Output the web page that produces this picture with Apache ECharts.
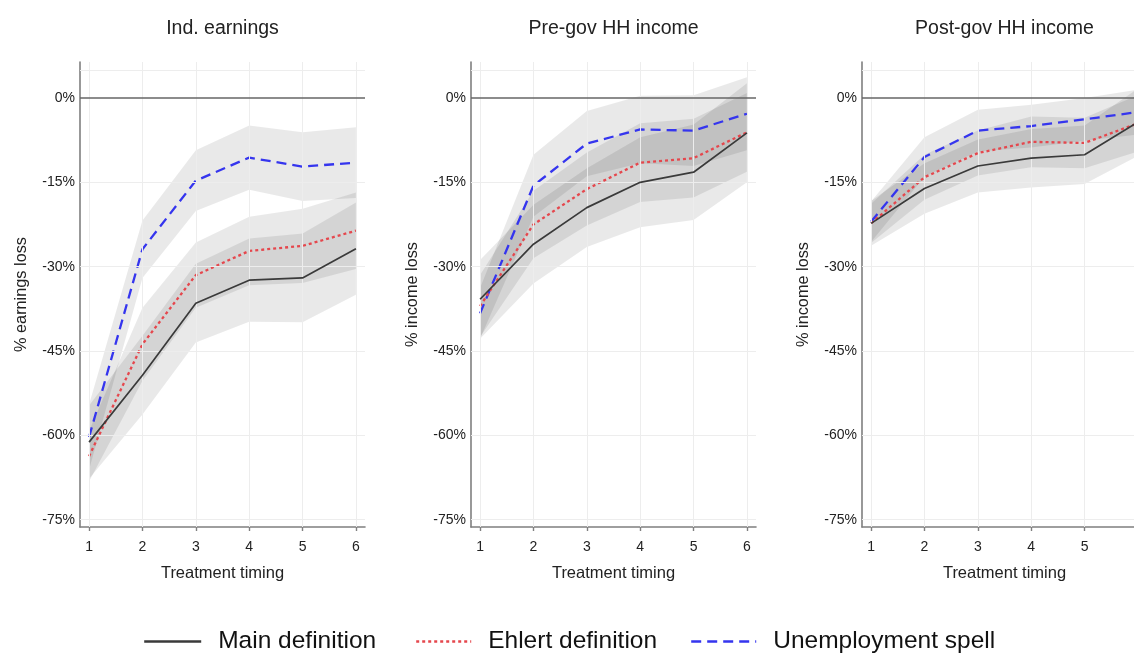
<!DOCTYPE html>
<html>
<head>
<meta charset="utf-8">
<script src="https://cdn.jsdelivr.net/npm/echarts@6/dist/echarts.min.js"></script>
<style>html,body{margin:0;padding:0;background:#fff}#c{width:1134px;height:653px}</style>
</head>
<body>
<div id="c"></div>
<script>
// ---- data ----
const timing = [1, 2, 3, 4, 5, 6];
const yTicks = [0, -15, -30, -45, -60, -75];
const panelTitles = ['Ind. earnings', 'Pre-gov HH income', 'Post-gov HH income'];
const yNames = ['% earnings loss', '% income loss', '% income loss'];
const seriesNames = ['Main definition', 'Ehlert definition', 'Unemployment spell'];

// Panel 1: Ind. earnings
const p1Main    = [-61.2, -49.3, -36.5, -32.4, -32.0, -26.8];
const p1MainLo  = [-67.7, -56.3, -43.5, -39.8, -39.9, -35.0];
const p1MainHi  = [-54.7, -42.3, -29.5, -25.0, -24.1, -18.6];
const p1Ehl     = [-63.7, -43.8, -31.5, -27.2, -26.3, -23.6];
const p1EhlLo   = [-68.2, -50.3, -37.3, -33.3, -32.9, -30.4];
const p1EhlHi   = [-59.2, -37.3, -25.7, -21.1, -19.7, -16.8];
const p1Unemp   = [-60.3, -26.9, -14.7, -10.6, -12.2, -11.5];
const p1UnempLo = [-66.1, -32.0, -20.1, -16.3, -18.3, -17.8];
const p1UnempHi = [-54.5, -21.8, -9.3, -4.9, -6.1, -5.2];

// Panel 2: Pre-gov HH income
const p2Main    = [-35.8, -26.0, -19.5, -15.0, -13.2, -6.2];
const p2MainLo  = [-42.8, -33.0, -26.5, -23.0, -21.7, -15.0];
const p2MainHi  = [-28.8, -19.0, -12.5, -7.0, -4.7, 2.6];
const p2Ehl     = [-37.0, -22.5, -16.2, -11.5, -10.7, -6.1];
const p2EhlLo   = [-42.5, -28.5, -22.7, -18.5, -17.7, -13.1];
const p2EhlHi   = [-31.5, -16.5, -9.7, -4.5, -3.7, 0.9];
const p2Unemp   = [-38.3, -15.6, -8.1, -5.6, -5.8, -2.8];
const p2UnempLo = [-42.8, -21.1, -13.9, -11.6, -12.1, -9.3];
const p2UnempHi = [-33.8, -10.1, -2.3, 0.4, 0.5, 3.7];

// Panel 3: Post-gov HH income
const p3Main    = [-22.3, -16.1, -12.1, -10.7, -10.1, -4.3];
const p3MainLo  = [-26.3, -20.6, -16.8, -15.9, -15.3, -10.3];
const p3MainHi  = [-18.3, -11.6, -7.4, -5.5, -4.9, 1.7];
const p3Ehl     = [-22.3, -14.1, -9.8, -7.8, -8.0, -4.5];
const p3EhlLo   = [-25.8, -18.1, -13.8, -12.3, -12.5, -9.5];
const p3EhlHi   = [-18.8, -10.1, -5.8, -3.3, -3.5, 0.5];
const p3Unemp   = [-22.0, -10.5, -5.8, -5.0, -3.8, -2.5];
const p3UnempLo = [-25.6, -14.0, -9.5, -8.8, -7.6, -6.5];
const p3UnempHi = [-18.4, -7.0, -2.1, -1.2, 0.0, 1.5];

const panels = [
  {lines: [p1Main, p1Ehl, p1Unemp], lo: [p1MainLo, p1EhlLo, p1UnempLo], hi: [p1MainHi, p1EhlHi, p1UnempHi]},
  {lines: [p2Main, p2Ehl, p2Unemp], lo: [p2MainLo, p2EhlLo, p2UnempLo], hi: [p2MainHi, p2EhlHi, p2UnempHi]},
  {lines: [p3Main, p3Ehl, p3Unemp], lo: [p3MainLo, p3EhlLo, p3UnempLo], hi: [p3MainHi, p3EhlHi, p3UnempHi]}
];

// ---- styles ----
const FONT = '"Liberation Sans", Arial, sans-serif';
const lineStyles = [
  {color: '#3a3a3a', width: 1.7, type: 'solid'},
  {color: '#e5474d', width: 2.3, type: [3, 3]},
  {color: '#3535ee', width: 2.3, type: [10, 6]}
];
const gridLefts = [80, 471, 862];
const gridW = 285, gridTop = 62, gridH = 465;

const grids = [], xAxes = [], yAxes = [], series = [], graphics = [];

function bandSeries(i, lo, hi) {
  return {
    type: 'custom', xAxisIndex: i, yAxisIndex: i, z: 1, silent: true, clip: true,
    data: timing.map((x, k) => [x, lo[k], hi[k]]),
    encode: {x: 0, y: [1, 2]},
    renderItem: (params, api) => {
      if (params.dataIndex !== 0) return null;
      const pts = [];
      for (let k = 0; k < timing.length; k++) pts.push(api.coord([timing[k], hi[k]]));
      for (let k = timing.length - 1; k >= 0; k--) pts.push(api.coord([timing[k], lo[k]]));
      return {type: 'polygon', shape: {points: pts}, style: {fill: 'rgba(0,0,0,0.085)'}};
    }
  };
}

panels.forEach((p, i) => {
  grids.push({left: gridLefts[i], top: gridTop, width: gridW, height: gridH,
              containLabel: false, outerBoundsMode: 'none'});
  xAxes.push({
    gridIndex: i, type: 'value', min: 0.83, max: 6.17,
    name: 'Treatment timing', nameLocation: 'middle', nameGap: 38,
    nameTextStyle: {fontFamily: FONT, fontSize: 16.5, color: '#222'},
    axisLine: {show: true, onZero: false, lineStyle: {color: '#7f7f7f', width: 1.6}},
    axisTick: {show: true, length: 4, inside: false, customValues: timing, lineStyle: {color: '#7f7f7f', width: 1.4}},
    axisLabel: {customValues: timing, margin: 13, fontFamily: FONT, fontSize: 14, color: '#222',
                showMaxLabel: true, showMinLabel: true, hideOverlap: false},
    splitLine: {show: false}
  });
  yAxes.push({
    gridIndex: i, type: 'value', min: -76.3, max: 6.4,
    name: yNames[i], nameLocation: 'middle', nameGap: 50, nameRotate: 90,
    nameTextStyle: {fontFamily: FONT, fontSize: 16.3, color: '#222'},
    axisLine: {show: true, onZero: false, lineStyle: {color: '#7f7f7f', width: 1.6}},
    axisTick: {show: false, customValues: yTicks},
    axisLabel: {customValues: yTicks, margin: 5, fontFamily: FONT, fontSize: 14, color: '#222',
                formatter: v => v + '%'},
    splitLine: {show: false}
  });
  // faint grid lines
  const gl = [{yAxis: 5}];
  yTicks.filter(v => v !== 0).forEach(v => gl.push({yAxis: v}));
  timing.forEach(v => gl.push({xAxis: v}));
  series.push({
    type: 'line', xAxisIndex: i, yAxisIndex: i, data: [], z: 0, silent: true,
    markLine: {silent: true, symbol: 'none', animation: false, label: {show: false},
               lineStyle: {color: '#ededed', width: 1, type: 'solid'}, data: gl}
  });
  // confidence bands
  for (let s = 0; s < 3; s++) series.push(bandSeries(i, p.lo[s], p.hi[s]));
  // zero line
  series.push({
    type: 'line', xAxisIndex: i, yAxisIndex: i, data: [], z: 2, silent: true,
    markLine: {silent: true, symbol: 'none', animation: false, label: {show: false},
               lineStyle: {color: '#666', width: 1.6, type: 'solid'}, data: [{yAxis: 0}]}
  });
  // point-estimate lines
  for (let s = 0; s < 3; s++) {
    series.push({
      name: seriesNames[s], type: 'line', xAxisIndex: i, yAxisIndex: i,
      data: timing.map((x, k) => [x, p.lines[s][k]]),
      symbol: 'none', z: 3 + (2 - s),
      lineStyle: lineStyles[s], itemStyle: {color: lineStyles[s].color}
    });
  }
  graphics.push({
    type: 'text', x: gridLefts[i] + gridW / 2, y: 29,
    style: {text: panelTitles[i], fontFamily: FONT, fontSize: 19.5, fill: '#222',
            textAlign: 'center', textVerticalAlign: 'middle'}
  });
});

const legendLefts = [143, 415, 690];
const legendWidths = [57, 55, 65];
const legends = seriesNames.map((n, s) => ({
  data: [n], left: legendLefts[s], top: 629, padding: 0,
  itemWidth: legendWidths[s], itemHeight: 14,
  itemStyle: {opacity: 0, borderWidth: 0},
  lineStyle: {width: 2.4},
  textStyle: {fontFamily: FONT, fontSize: 24.5, color: '#111', padding: [0, 0, 0, 12]}
}));

const chart = echarts.init(document.getElementById('c'), null, {renderer: 'canvas'});
chart.setOption({
  animation: false,
  backgroundColor: '#fff',
  grid: grids, xAxis: xAxes, yAxis: yAxes, series: series,
  graphic: graphics,
  legend: legends
});
</script>
</body>
</html>
